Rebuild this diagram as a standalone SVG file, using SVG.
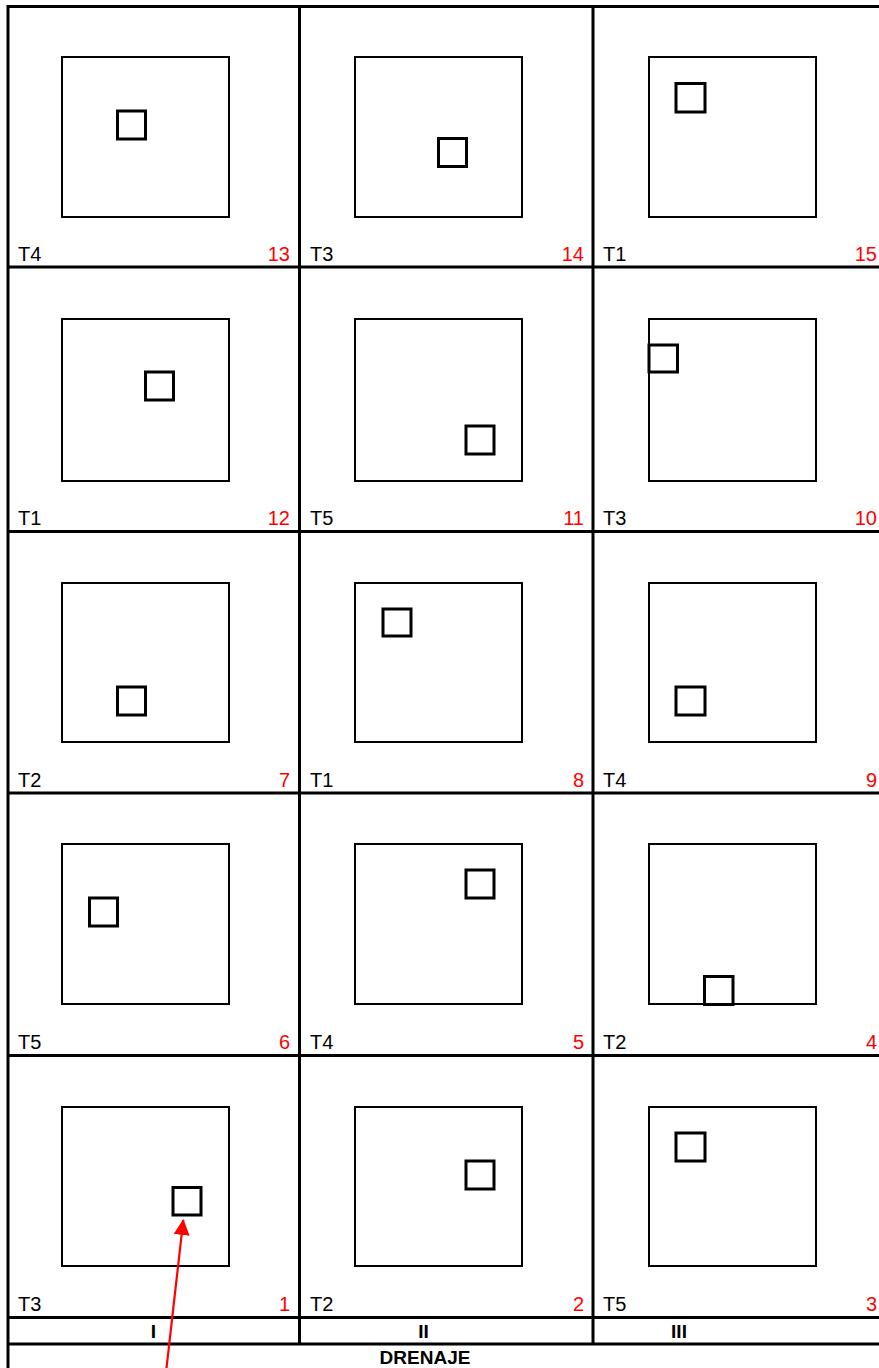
<svg xmlns="http://www.w3.org/2000/svg" width="879" height="1368" viewBox="0 0 879 1368">
<style>
.grid{stroke:#000;stroke-width:3;fill:none}
.plot{fill:none;stroke:#000;stroke-width:2}
.pt{fill:none;stroke:#000;stroke-width:3}
.t{font-family:"Liberation Sans",Arial,sans-serif;font-size:20px;fill:#000}
.n{font-family:"Liberation Sans",Arial,sans-serif;font-size:20px;fill:#FF0000;text-anchor:end}
.b{font-family:"Liberation Sans",Arial,sans-serif;font-size:19px;font-weight:bold;fill:#000;text-anchor:middle}
</style>
<defs>
<marker id="ah" markerWidth="16" markerHeight="16" refX="15" refY="8" orient="auto" markerUnits="userSpaceOnUse">
<path d="M0,0 L16,8 L0,16 Z" fill="#FF0000"/>
</marker>
</defs>
<rect width="879" height="1368" fill="#fff"/>
<g id="grid">
<line class="grid" x1="8" y1="6.5" x2="879" y2="6.5"/>
<line class="grid" x1="8" y1="267" x2="879" y2="267"/>
<line class="grid" x1="8" y1="531.5" x2="879" y2="531.5"/>
<line class="grid" x1="8" y1="793" x2="879" y2="793"/>
<line class="grid" x1="8" y1="1055.5" x2="879" y2="1055.5"/>
<line class="grid" x1="8" y1="1317.5" x2="879" y2="1317.5"/>
<line class="grid" x1="8" y1="1344" x2="879" y2="1344"/>
<line class="grid" x1="8" y1="5" x2="8" y2="1368"/>
<line class="grid" x1="299.5" y1="5" x2="299.5" y2="1344"/>
<line class="grid" x1="593" y1="5" x2="593" y2="1344"/>
</g>
<g id="plot13"><rect class="plot" x="62" y="57" width="167" height="160"/><rect class="pt" x="117.5" y="111" width="28" height="28"/><text class="t" x="18" y="260.5">T4</text><text class="n" x="290" y="260.5">13</text></g>
<g id="plot14"><rect class="plot" x="355" y="57" width="167" height="160"/><rect class="pt" x="438.5" y="138.5" width="28" height="28"/><text class="t" x="310" y="260.5">T3</text><text class="n" x="584" y="260.5">14</text></g>
<g id="plot15"><rect class="plot" x="649" y="57" width="167" height="160"/><rect class="pt" x="676" y="83.5" width="29" height="28.5"/><text class="t" x="603" y="260.5">T1</text><text class="n" x="877" y="260.5">15</text></g>
<g id="plot12"><rect class="plot" x="62" y="319" width="167" height="162"/><rect class="pt" x="145.5" y="372" width="28" height="28"/><text class="t" x="18" y="525">T1</text><text class="n" x="290" y="525">12</text></g>
<g id="plot11"><rect class="plot" x="355" y="319" width="167" height="162"/><rect class="pt" x="466" y="426" width="28" height="28"/><text class="t" x="310" y="525">T5</text><text class="n" x="584" y="525">11</text></g>
<g id="plot10"><rect class="plot" x="649" y="319" width="167" height="162"/><rect class="pt" x="649" y="345" width="28.5" height="27"/><text class="t" x="603" y="525">T3</text><text class="n" x="877" y="525">10</text></g>
<g id="plot7"><rect class="plot" x="62" y="583" width="167" height="159"/><rect class="pt" x="117.5" y="687" width="28" height="28"/><text class="t" x="18" y="786.5">T2</text><text class="n" x="290" y="786.5">7</text></g>
<g id="plot8"><rect class="plot" x="355" y="583" width="167" height="159"/><rect class="pt" x="383" y="609" width="28" height="27"/><text class="t" x="310" y="786.5">T1</text><text class="n" x="584" y="786.5">8</text></g>
<g id="plot9"><rect class="plot" x="649" y="583" width="167" height="159"/><rect class="pt" x="676" y="687" width="29" height="28"/><text class="t" x="603" y="786.5">T4</text><text class="n" x="877" y="786.5">9</text></g>
<g id="plot6"><rect class="plot" x="62" y="844" width="167" height="160"/><rect class="pt" x="89.5" y="898" width="28" height="28"/><text class="t" x="18" y="1049">T5</text><text class="n" x="290" y="1049">6</text></g>
<g id="plot5"><rect class="plot" x="355" y="844" width="167" height="160"/><rect class="pt" x="466" y="870" width="28" height="28"/><text class="t" x="310" y="1049">T4</text><text class="n" x="584" y="1049">5</text></g>
<g id="plot4"><rect class="plot" x="649" y="844" width="167" height="160"/><rect class="pt" x="704.5" y="976.5" width="28.5" height="28"/><text class="t" x="603" y="1049">T2</text><text class="n" x="877" y="1049">4</text></g>
<g id="plot1"><rect class="plot" x="62" y="1107" width="167" height="159"/><rect class="pt" x="173" y="1187.5" width="28" height="27.5"/><text class="t" x="18" y="1311">T3</text><text class="n" x="290" y="1311">1</text></g>
<g id="plot2"><rect class="plot" x="355" y="1107" width="167" height="159"/><rect class="pt" x="466" y="1161" width="28" height="28"/><text class="t" x="310" y="1311">T2</text><text class="n" x="584" y="1311">2</text></g>
<g id="plot3"><rect class="plot" x="649" y="1107" width="167" height="159"/><rect class="pt" x="676" y="1133" width="29" height="28"/><text class="t" x="603" y="1311">T5</text><text class="n" x="877" y="1311">3</text></g>
<g id="labels">
<text class="b" x="153.5" y="1337.5">I</text>
<text class="b" x="423.5" y="1337.5">II</text>
<text class="b" x="679" y="1337.5">III</text>
<text class="b" x="425" y="1364">DRENAJE</text>
</g>
<g id="connectors">
<line x1="166.5" y1="1368" x2="183.3" y2="1220" stroke="#FF0000" stroke-width="2.2" marker-end="url(#ah)"/>
</g>
</svg>
